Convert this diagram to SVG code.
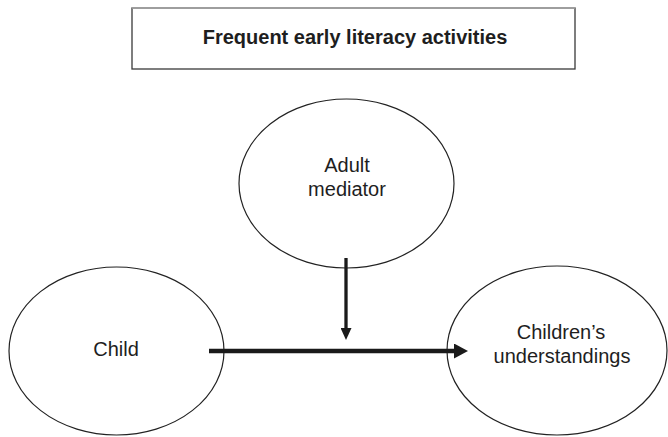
<svg xmlns="http://www.w3.org/2000/svg" width="668" height="437" viewBox="0 0 668 437">
  <defs>
    <style>
      .node ellipse { fill: #fff; stroke: #222; stroke-width: 1.2; }
      .label { font-family: "Liberation Sans", Arial, sans-serif; font-size: 20px; fill: #1e1e1e; text-anchor: middle; }
      .title { font-weight: bold; }
      .edge { stroke: #1a1a1a; fill: none; }
    </style>
    <marker id="head-h" markerWidth="14" markerHeight="15" refX="0" refY="7.5" orient="auto" markerUnits="userSpaceOnUse">
      <path d="M0,0 L14,7.5 L0,15 Z" fill="#1a1a1a"/>
    </marker>
    <marker id="head-v" markerWidth="12" markerHeight="11" refX="0" refY="5.5" orient="auto" markerUnits="userSpaceOnUse">
      <path d="M0,0 L12,5.5 L0,11 Z" fill="#1a1a1a"/>
    </marker>
  </defs>
  <rect width="668" height="437" fill="#fff"/>

  <!-- heading box -->
  <g id="heading">
    <rect x="132" y="8" width="443" height="61" fill="#fff" stroke="#3a3a3a" stroke-width="1.3"/>
    <line x1="132" y1="8" x2="575" y2="8" stroke="#aaa" stroke-width="1.3"/>
    <text class="label title" x="355" y="44">Frequent early literacy activities</text>
  </g>

  <g id="adult-mediator" class="node">
    <ellipse cx="346.5" cy="183.5" rx="107.5" ry="84.5"/>
    <text class="label" x="347" y="172">Adult</text>
    <text class="label" x="347" y="196">mediator</text>
  </g>

  <g id="child" class="node">
    <ellipse cx="116.5" cy="351" rx="107.5" ry="84"/>
    <text class="label" x="116" y="356">Child</text>
  </g>

  <g id="understandings" class="node">
    <ellipse cx="557" cy="350.5" rx="110" ry="84.5"/>
    <text class="label" x="561" y="339">Children’s</text>
    <text class="label" x="562" y="363">understandings</text>
  </g>

  <g id="connectors">
    <line class="edge" x1="209" y1="351" x2="454" y2="351" stroke-width="4.5" marker-end="url(#head-h)"/>
    <line class="edge" x1="346" y1="258" x2="346" y2="328" stroke-width="3.3" marker-end="url(#head-v)"/>
  </g>
</svg>
